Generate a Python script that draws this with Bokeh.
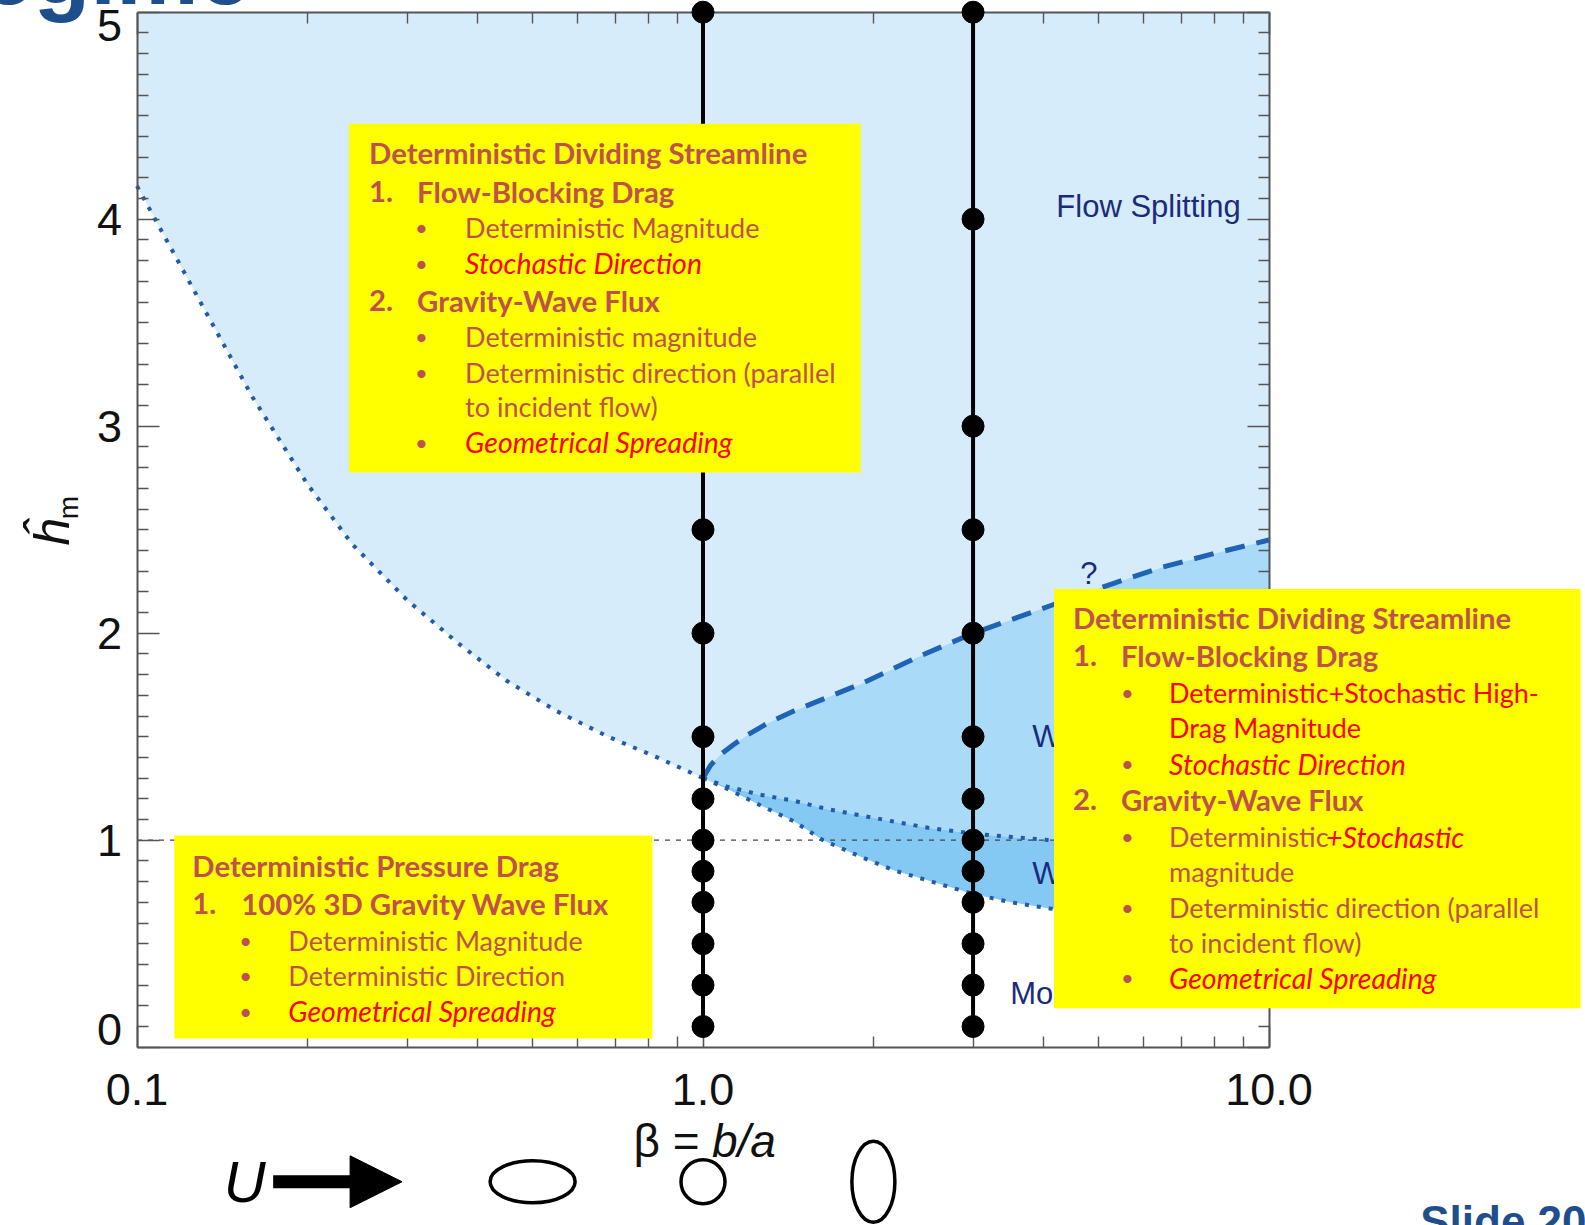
from bokeh.plotting import figure
from bokeh.models import (Range1d, LogAxis, LinearAxis, FixedTicker, PrintfTickFormatter,
                          CustomJSTickFormatter, ColumnDataSource, Arrow, NormalHead)
from bokeh.core.properties import value
from bokeh.embed import file_html
from bokeh.resources import INLINE

# ---------------- data ----------------
# flow-splitting boundary (dotted, beta <= 1)
beta_split = [0.10, 0.13, 0.16, 0.20, 0.24, 0.30, 0.37, 0.45, 0.55, 0.68, 0.83, 1.00]
hm_split = [4.16, 3.59, 3.14, 2.72, 2.43, 2.16, 1.95, 1.77, 1.625, 1.50, 1.40, 1.30]
# upper boundary of the wake regime (dashed)
beta_wake_top = [1.00, 1.03, 1.07, 1.13, 1.20, 1.30, 1.45, 1.66, 1.90, 2.42, 3.00, 3.50,
                 4.13, 5.30, 6.50, 8.00, 10.0]
hm_wake_top = [1.30, 1.36, 1.41, 1.46, 1.51, 1.565, 1.625, 1.69, 1.755, 1.89, 2.00, 2.065,
               2.135, 2.24, 2.32, 2.385, 2.45]
# middle dotted boundary (beta >= 1)
beta_wake_mid = [1.00, 1.10, 1.26, 1.45, 1.66, 1.90, 2.17, 2.50, 3.05, 4.10, 10.0]
hm_wake_mid = [1.30, 1.26, 1.22, 1.19, 1.15, 1.12, 1.09, 1.06, 1.03, 1.00, 0.97]
# lower dotted boundary (beta >= 1)
beta_wake_low = [1.00, 1.10, 1.26, 1.45, 1.63, 1.90, 2.17, 2.50, 3.00, 3.50, 4.10, 10.0]
hm_wake_low = [1.30, 1.25, 1.17, 1.09, 1.00, 0.92, 0.855, 0.805, 0.74, 0.70, 0.67, 0.55]
# simulation runs
beta_runs = [1.0, 3.0]
hm_runs = [0.1, 0.3, 0.5, 0.7, 0.85, 1.0, 1.2, 1.5, 2.0, 2.5, 3.0, 4.0, 5.0]
hm_critical = 1.0
# obstacle shapes shown under the axis
beta_shapes = [0.5, 1.0, 2.0]

x_ticks = [0.1, 1.0, 10.0]
x_minor = [0.2, 0.3, 0.4, 0.5, 0.6, 0.7, 0.8, 0.9, 2, 3, 4, 5, 6, 7, 8, 9]
y_ticks = [0, 1, 2, 3, 4, 5]
y_minor = [i / 10 for i in range(1, 50) if i % 10]
y_end_labels = ["0", "5"]

region_labels = ["Flow Splitting", "?", "W", "W", "Mo"]
region_label_beta = [4.21, 4.64, 3.815, 3.815, 3.49]
region_label_hm = [4.06, 2.29, 1.50, 0.84, 0.26]

# text boxes
box1_text = ["Deterministic Dividing Streamline", "1.", "Flow-Blocking Drag",
             "\u2022", "Deterministic Magnitude", "\u2022", "Stochastic Direction",
             "2.", "Gravity-Wave Flux", "\u2022", "Deterministic magnitude",
             "\u2022", "Deterministic direction (parallel", "to incident flow)",
             "\u2022", "Geometrical Spreading"]
box1_kind = ["h", "h", "h", "b", "t", "b", "ri", "h", "h", "b", "t", "b", "t", "t", "b", "ri"]
box1_dx = [20, 20, 68, 66, 116, 66, 116, 20, 68, 66, 116, 66, 116, 116, 66, 116]
box1_dy = [29, 68, 68, 104, 104, 139.5, 139.5, 177, 177, 213, 213, 249, 249, 283, 318.5, 318.5]

box2_text = ["Deterministic Pressure Drag", "1.", "100% 3D Gravity Wave Flux",
             "\u2022", "Deterministic Magnitude", "\u2022", "Deterministic Direction",
             "\u2022", "Geometrical Spreading"]
box2_kind = ["h", "h", "h", "b", "t", "b", "t", "b", "ri"]
box2_dx = [18, 18, 67, 65, 114, 65, 114, 65, 114]
box2_dy = [30, 67.6, 67.6, 105, 105, 140.4, 140.4, 175.8, 175.8]

box3_text = ["Deterministic Dividing Streamline", "1.", "Flow-Blocking Drag",
             "\u2022", "Deterministic+Stochastic High-", "Drag Magnitude",
             "\u2022", "Stochastic Direction", "2.", "Gravity-Wave Flux",
             "\u2022", "Deterministic", "+Stochastic", "magnitude",
             "\u2022", "Deterministic direction (parallel", "to incident flow)",
             "\u2022", "Geometrical Spreading"]
box3_kind = ["h", "h", "h", "b", "r", "r", "b", "ri", "h", "h", "b", "t", "ri", "t",
             "b", "t", "t", "b", "ri"]
box3_dx = [19, 19, 67, 67, 115, 115, 67, 115, 19, 67, 67, 115, 272, 115, 67, 115, 115, 67, 115]
box3_dy = [28.3, 66.7, 66.7, 104, 104, 138.5, 175, 175, 211, 211, 247.7, 247.7, 247.7, 283,
           318.4, 318.4, 353.8, 389, 389]

# ---------------- layout / style constants ----------------
PX_DEC = 566.0      # pixels per decade of beta
PX_UNIT = 207.0     # pixels per unit of h_m
FRAME_W, FRAME_H = 1585, 1225
LEFT_PX, TOP_PX = 136.5, 11.7
X_MIN = 10 ** (-1 - LEFT_PX / PX_DEC)
X_MAX = 10 ** (-1 - LEFT_PX / PX_DEC + FRAME_W / PX_DEC)
Y_MAX = 5 + TOP_PX / PX_UNIT
Y_MIN = Y_MAX - FRAME_H / PX_UNIT

LIGHT = "#d6ecfb"
MEDIUM = "#a9dbf8"
DARK = "#84c9f4"
DOT_BLUE = "#245aa6"
DASH_BLUE = "#1f62b6"
NAVY = "#1b2b7c"
BROWN = "#c0504d"
RED = "#ff0000"
YELLOW = "#ffff00"
AXIS_GREY = "#555555"
TITLE_BLUE = "#1f4e8c"
TICK_FONT = "Liberation Sans"
TICK_SIZE = "45px"

p = figure(width=FRAME_W, height=FRAME_H, x_axis_type="log",
           x_range=Range1d(X_MIN, X_MAX), y_range=Range1d(Y_MIN, Y_MAX),
           output_backend="svg", toolbar_location=None, min_border=0,
           outline_line_color=None, background_fill_color="white",
           border_fill_color="white")
p.xgrid.visible = False
p.ygrid.visible = False


def style_axis(ax, labels):
    ax.axis_line_color = AXIS_GREY
    ax.axis_line_width = 2
    ax.major_tick_line_color = AXIS_GREY
    ax.minor_tick_line_color = AXIS_GREY
    ax.major_tick_line_width = 1.6
    ax.minor_tick_line_width = 1.4
    ax.major_tick_in = 22
    ax.major_tick_out = 0
    ax.minor_tick_in = 11
    ax.minor_tick_out = 0
    ax.major_label_text_font = TICK_FONT
    ax.major_label_text_font_size = TICK_SIZE
    ax.major_label_text_color = "#111111"
    if not labels:
        ax.formatter = CustomJSTickFormatter(code="return ''")


xb = p.xaxis[0]
xb.fixed_location = 0
xb.bounds = (x_ticks[0], x_ticks[-1])
xb.ticker = FixedTicker(ticks=x_ticks, minor_ticks=x_minor)
xb.formatter = PrintfTickFormatter(format="%.1f")
style_axis(xb, True)
xb.major_label_standoff = 27

yl = p.yaxis[0]
yl.fixed_location = x_ticks[0]
yl.bounds = (y_ticks[0], y_ticks[-1])
yl.ticker = FixedTicker(ticks=y_ticks, minor_ticks=y_minor)
style_axis(yl, True)
# end labels are drawn shifted inward (as in the original), see below
yl.formatter = CustomJSTickFormatter(code="return (tick == 0 || tick == 5) ? '' : tick.toFixed(0)")
yl.major_label_standoff = 15

xt = LogAxis(fixed_location=y_ticks[-1], bounds=(x_ticks[0], x_ticks[-1]),
             ticker=FixedTicker(ticks=x_ticks, minor_ticks=x_minor))
style_axis(xt, False)
p.add_layout(xt, "above")

yr = LinearAxis(fixed_location=x_ticks[-1], bounds=(y_ticks[0], y_ticks[-1]),
                ticker=FixedTicker(ticks=y_ticks, minor_ticks=y_minor))
style_axis(yr, False)
p.add_layout(yr, "right")

p.text(x=[x_ticks[0], x_ticks[0]], y=[y_ticks[0], y_ticks[-1]], text=y_end_labels,
       x_offset=-15, y_offset=[-17.5, 13],
       text_font=value(TICK_FONT), text_font_size=TICK_SIZE, text_color="#111111",
       text_align="right", text_baseline="middle")

# ---------------- regime regions ----------------
light_x = beta_split + beta_wake_top[1:] + [x_ticks[-1], x_ticks[0]]
light_y = hm_split + hm_wake_top[1:] + [y_ticks[-1], y_ticks[-1]]
p.patch(light_x, light_y, fill_color=LIGHT, line_color=None)

med_x = beta_wake_top + beta_wake_mid[::-1]
med_y = hm_wake_top + hm_wake_mid[::-1]
p.patch(med_x, med_y, fill_color=MEDIUM, line_color=None)

dark_x = beta_wake_mid + beta_wake_low[::-1]
dark_y = hm_wake_mid + hm_wake_low[::-1]
p.patch(dark_x, dark_y, fill_color=DARK, line_color=None)

# critical h_m = 1 line
p.segment(x0=[x_ticks[0]], y0=[hm_critical], x1=[x_ticks[-1]], y1=[hm_critical],
          line_color="#444444", line_width=1.3, line_dash="5 6")

# boundaries
for bx, by in ((beta_split, hm_split), (beta_wake_mid, hm_wake_mid), (beta_wake_low, hm_wake_low)):
    p.line(bx, by, line_color=DOT_BLUE, line_width=4, line_dash="4 8")
p.line(beta_wake_top, hm_wake_top, line_color=DASH_BLUE, line_width=5, line_dash="20 12")

# region labels
p.text(x=region_label_beta, y=region_label_hm, text=region_labels,
       text_font=value("Liberation Sans"), text_font_size="31px", text_color=NAVY,
       text_align="left", text_baseline="middle")

# simulation runs
p.multi_line(xs=[[b, b] for b in beta_runs], ys=[[hm_runs[0], hm_runs[-1]] for _ in beta_runs],
             line_color="black", line_width=4, level="annotation")
p.scatter(x=[b for b in beta_runs for _ in hm_runs], y=[h for _ in beta_runs for h in hm_runs],
          marker="circle", size=22, color="black", level="annotation")

# ---------------- under-axis decorations ----------------
SHAPE_Y = -0.65
SHAPE_W = [85, 44, 43]
SHAPE_H = [42, 44, 81]
p.ellipse(x=beta_shapes, y=[SHAPE_Y] * len(beta_shapes), width=SHAPE_W, height=SHAPE_H,
          width_units="screen", height_units="screen", fill_color=None,
          line_color="black", line_width=3.5)
p.add_layout(Arrow(end=NormalHead(size=52, fill_color="black", line_color="black"),
                   x_start=0.174, y_start=SHAPE_Y, x_end=0.294, y_end=SHAPE_Y,
                   line_color="black", line_width=13))
p.text(x=[0.155], y=[SHAPE_Y], text=["U"], text_font=value("Liberation Sans"),
       text_font_size="58px", text_font_style="italic", text_color="black",
       text_align="center", text_baseline="middle")
BETA_LABEL_Y = -0.453
p.text(x=[1.0], y=[BETA_LABEL_Y], text=["\u03b2 = "], x_offset=-69.5,
       text_font=value("Liberation Sans"), text_font_size="46px", text_color="#111111",
       text_align="left", text_baseline="middle")
p.text(x=[1.0], y=[BETA_LABEL_Y], text=["b/a"], x_offset=9,
       text_font=value("Liberation Sans"), text_font_size="46px", text_font_style="italic",
       text_color="#111111", text_align="left", text_baseline="middle")

# y axis label  h-hat sub m
p.text(x=[x_ticks[0]], y=[2.5], text=["\u0125"], x_offset=-85, y_offset=2, angle=1.5708,
       text_font=value("Liberation Sans"), text_font_size="50px", text_font_style="italic",
       text_color="#111111", text_align="center", text_baseline="middle")
p.text(x=[x_ticks[0]], y=[2.5], text=["m"], x_offset=-69, y_offset=-22, angle=1.5708,
       text_font=value("Liberation Sans"), text_font_size="28px",
       text_color="#111111", text_align="center", text_baseline="middle")

# ---------------- yellow text boxes ----------------
box_left = [0.237, 0.1164, 4.17]
box_right = [1.90, 0.814, 35.5]
box_top = [4.461, 1.023, 2.214]
box_bottom = [2.776, 0.042, 0.188]
p.quad(left=box_left, right=box_right, top=box_top, bottom=box_bottom,
       fill_color=YELLOW, line_color=None, level="overlay")

KIND_COLOR = {"h": BROWN, "t": BROWN, "b": BROWN, "r": RED, "ri": RED}
KIND_STYLE = {"h": "bold", "t": "normal", "b": "normal", "r": "normal", "ri": "italic"}
KIND_SIZE = {"h": "29.3px", "t": "27px", "b": "22px", "r": "27px", "ri": "28.5px"}
for i, (txt, kind, dx, dy) in enumerate(((box1_text, box1_kind, box1_dx, box1_dy),
                                         (box2_text, box2_kind, box2_dx, box2_dy),
                                         (box3_text, box3_kind, box3_dx, box3_dy))):
    src = ColumnDataSource(dict(
        x=[box_left[i]] * len(txt), y=[box_top[i]] * len(txt), text=txt,
        dx=dx, dy=dy, color=[KIND_COLOR[k] for k in kind],
        style=[KIND_STYLE[k] for k in kind], size=[KIND_SIZE[k] for k in kind]))
    p.text(x="x", y="y", text="text", x_offset="dx", y_offset="dy",
           text_color="color", text_font_style="style", text_font_size="size", source=src,
           text_font=value("Lato"), text_align="left", text_baseline="middle",
           level="overlay")

# slide decorations (partially off the page)
p.text(x=[0.1587], y=[5.194], text=["Regime"], text_font=value("Liberation Sans"),
       text_font_size="93px", text_font_style="bold", text_color=TITLE_BLUE,
       text_align="right", text_baseline="middle", level="overlay")
p.text(x=[18.5], y=[-0.841], text=["Slide  20"], text_font=value("Liberation Sans"),
       text_font_size="44px", text_font_style="bold", text_color=TITLE_BLUE,
       text_align="left", text_baseline="middle", level="overlay")

open("out.html", "w").write(file_html(p, INLINE))
